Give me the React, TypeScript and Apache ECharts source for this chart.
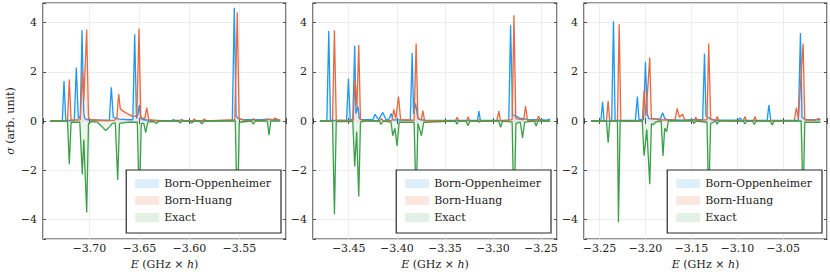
import React, { useEffect, useRef } from "react";
import * as echarts from "echarts";

type Pt = [number, number];

const SERIES_NAMES = ["Born-Oppenheimer", "Born-Huang", "Exact"];
const LINE_COLORS = ["#1e98f0", "#e8683f", "#3a9f47"];
const FILL_COLORS = ["rgba(30,152,240,0.13)", "rgba(232,104,63,0.13)", "rgba(58,159,71,0.13)"];
const LEGEND_SWATCH = ["#ddeffd", "#fbe7e0", "#e2f1e4"];

const X_RANGES: Pt[] = [
  [-3.7463, -3.5033],
  [-3.4872, -3.2333],
  [-3.2669, -3.0023],
];
const Y_RANGE: Pt = [-4.8, 4.8];

// Panel 1
const P1_BO: Pt[] = [
  [-3.739, 0], [-3.727, 0], [-3.7253, 1.63], [-3.7235, 0.02], [-3.715, 0.02], [-3.713, 2.18], [-3.711, 0.1],
  [-3.709, 0.2], [-3.7073, 3.69], [-3.7055, 0.3], [-3.7045, 0.1], [-3.702, 0.05], [-3.68, 0.02], [-3.678, 1.37],
  [-3.676, 0.15], [-3.67, 0.08], [-3.66, 0.05], [-3.6565, 0.05], [-3.6546, 3.53], [-3.6528, 0.1], [-3.6512, 0.3],
  [-3.65, 0.65], [-3.6485, 0.1], [-3.646, 0.05], [-3.64, 0.03], [-3.618, 0], [-3.616, 0.06], [-3.6135, 0.02],
  [-3.6095, 0.02], [-3.6076, 0.06], [-3.605, 0], [-3.557, 0.02], [-3.555, 4.61], [-3.5532, 0.2],
  [-3.551, 0.1], [-3.545, 0.05], [-3.53, 0.05], [-3.52, 0.08], [-3.515, 0.05], [-3.51, 0.05],
];
const P1_BH: Pt[] = [
  [-3.739, 0], [-3.7218, 0], [-3.72, 1.69], [-3.7182, 0.03], [-3.709, 0.05], [-3.707, 2.04], [-3.7055, 0.85],
  [-3.7026, 3.72], [-3.7008, 0.1], [-3.699, 0.05], [-3.69, 0.02], [-3.675, 0.03], [-3.6725, 0.1], [-3.6706, 1.1],
  [-3.669, 0.5], [-3.667, 0.42], [-3.662, 0.3], [-3.657, 0.2], [-3.6525, 0.2], [-3.6503, 3.76], [-3.6485, 0.15],
  [-3.6445, 0.1], [-3.6426, 0.54], [-3.6405, 0.05], [-3.636, 0.03], [-3.63, 0], [-3.6095, 0], [-3.6076, 0.06],
  [-3.6055, 0], [-3.597, 0], [-3.595, 0.08], [-3.593, 0], [-3.587, 0], [-3.585, 0.08], [-3.583, 0],
  [-3.5545, 0.05], [-3.552, 4.42], [-3.5502, 0.1], [-3.546, 0.03], [-3.538, 0], [-3.536, 0.1], [-3.534, 0.02],
  [-3.525, 0.02], [-3.5226, 0.08], [-3.52, 0.05], [-3.516, 0.06], [-3.5143, 0.12], [-3.511, 0.05], [-3.509, 0.04],
];
const P1_EX: Pt[] = [
  [-3.739, 0], [-3.7218, 0], [-3.72, -1.76], [-3.7182, -0.05], [-3.7095, -0.05], [-3.707, -2.16], [-3.7055, -0.75],
  [-3.7026, -3.72], [-3.7008, -0.1], [-3.698, -0.02], [-3.692, -0.05], [-3.688, -0.2], [-3.6836, -0.39],
  [-3.68, -0.25], [-3.677, -0.1], [-3.674, -0.08], [-3.6716, -2.4], [-3.6698, -0.1], [-3.66, -0.05],
  [-3.652, -0.05], [-3.65, -3.4], [-3.648, -0.1], [-3.6455, -0.1], [-3.6436, -0.47], [-3.6415, -0.05],
  [-3.636, -0.02], [-3.633, -0.1], [-3.63, 0], [-3.611, 0], [-3.609, -0.08], [-3.607, 0], [-3.6, 0],
  [-3.5976, -0.08], [-3.595, 0], [-3.59, 0], [-3.5876, -0.12], [-3.585, 0], [-3.554, 0], [-3.552, -4.0],
  [-3.55, -0.05], [-3.538, 0], [-3.536, -0.13], [-3.534, 0], [-3.522, 0], [-3.5203, -0.58], [-3.5185, 0],
  [-3.509, 0],
];

// Panel 2
const P2_BO: Pt[] = [
  [-3.48, 0], [-3.4728, 0], [-3.4708, 3.66], [-3.469, 0.02], [-3.4523, 0.02], [-3.4503, 1.73], [-3.4485, 0.05],
  [-3.4458, 0.05], [-3.4438, 3.06], [-3.4425, 0.3], [-3.4405, 0.6], [-3.439, 0.1], [-3.436, 0.05], [-3.425, 0.05],
  [-3.4226, 0.27], [-3.419, 0.05], [-3.4146, 0.35], [-3.4111, 0.05], [-3.408, 0.08], [-3.406, 0.31],
  [-3.404, 0.05], [-3.387, 0.03], [-3.386, 0.03], [-3.384, 2.77], [-3.3825, 0.3], [-3.3805, 0.72],
  [-3.378, 0.1], [-3.375, 0.05], [-3.37, 0.03], [-3.316, 0.02], [-3.3146, 0.4], [-3.313, 0.02],
  [-3.2835, 0.03], [-3.2816, 3.89], [-3.2795, 0.25], [-3.276, 0.2], [-3.272, 0.12], [-3.266, 0.08],
  [-3.26, 0.05], [-3.25, 0.05], [-3.245, 0.03], [-3.2406, 0.08],
];
const P2_BH: Pt[] = [
  [-3.48, 0], [-3.4669, 0], [-3.4649, 3.69], [-3.463, 0.02], [-3.4455, 0.02], [-3.4434, 1.69], [-3.4415, 0.6],
  [-3.4396, 3.09], [-3.4378, 0.05], [-3.433, 0.02], [-3.418, 0], [-3.4164, 0.1], [-3.414, 0], [-3.405, 0.02],
  [-3.4031, 0.47], [-3.401, 0.1], [-3.3982, 0.99], [-3.396, 0.05], [-3.382, 0.03], [-3.3799, 3.15],
  [-3.378, 0.1], [-3.3745, 0.05], [-3.3729, 0.42], [-3.371, 0.02], [-3.339, 0], [-3.3372, 0.15],
  [-3.3355, 0], [-3.3275, 0], [-3.3257, 0.17], [-3.324, 0], [-3.3155, 0], [-3.314, 0.05], [-3.312, 0],
  [-3.296, 0], [-3.2938, 0.4], [-3.292, 0], [-3.28, 0.05], [-3.2781, 4.3], [-3.2762, 0.1], [-3.268, 0.05],
  [-3.266, 0.61], [-3.264, 0.03], [-3.2545, 0], [-3.2524, 0.2], [-3.2505, 0], [-3.2406, 0],
];
const P2_EX: Pt[] = [
  [-3.48, 0], [-3.4669, 0], [-3.4649, -3.79], [-3.463, -0.02], [-3.4458, -0.02], [-3.4438, -1.85],
  [-3.4418, -0.43], [-3.4396, -3.07], [-3.4378, -0.05], [-3.433, 0], [-3.418, 0], [-3.4164, -0.14],
  [-3.414, 0], [-3.406, -0.05], [-3.4042, -0.6], [-3.402, -0.3], [-3.3997, -1.01], [-3.3975, -0.05],
  [-3.382, -0.05], [-3.3799, -3.3], [-3.378, -0.1], [-3.3765, -0.3], [-3.3743, -0.6], [-3.372, -0.05],
  [-3.339, 0], [-3.3375, -0.13], [-3.3355, 0], [-3.328, 0], [-3.326, -0.19], [-3.324, 0], [-3.3155, 0],
  [-3.314, -0.05], [-3.312, 0], [-3.294, 0], [-3.292, -0.26], [-3.29, 0], [-3.28, -0.05], [-3.2781, -3.9],
  [-3.276, -0.1], [-3.2715, -0.05], [-3.2691, -0.69], [-3.267, -0.05], [-3.257, 0], [-3.255, -0.2],
  [-3.253, 0], [-3.2406, 0],
];

// Panel 3
const P3_BO: Pt[] = [
  [-3.2593, 0], [-3.2485, 0], [-3.2467, 0.78], [-3.245, 0], [-3.2368, 0], [-3.2348, 4.06], [-3.233, 0.02],
  [-3.211, 0.02], [-3.2088, 0.99], [-3.207, 0.05], [-3.202, 0.05], [-3.2, 2.41], [-3.198, 0.3], [-3.1965, 0.1],
  [-3.19, 0.08], [-3.1835, 0.1], [-3.1813, 0.34], [-3.179, 0.1], [-3.175, 0.05], [-3.16, 0.03], [-3.15, 0.05],
  [-3.1377, 0.05], [-3.1357, 2.74], [-3.134, 0.2], [-3.132, 0.15], [-3.128, 0.05], [-3.12, 0.03],
  [-3.099, 0.03], [-3.0971, 0.13], [-3.095, 0.03], [-3.0675, 0.02], [-3.0656, 0.65], [-3.0635, 0.02],
  [-3.0335, 0.02], [-3.0312, 3.58], [-3.0295, 0.15], [-3.026, 0.05], [-3.015, 0.05], [-3.0095, 0.05],
];
const P3_BH: Pt[] = [
  [-3.2593, 0], [-3.2425, 0], [-3.2406, 0.82], [-3.2388, 0], [-3.2305, 0], [-3.2286, 3.94], [-3.2268, 0],
  [-3.2035, 0], [-3.2015, 1.23], [-3.1995, 0.2], [-3.1953, 2.58], [-3.1935, 0.1], [-3.19, 0.1], [-3.187, 0.05],
  [-3.168, 0.03], [-3.1654, 0.51], [-3.163, 0.15], [-3.1595, 0.28], [-3.157, 0.03], [-3.147, 0.02],
  [-3.1451, 0.15], [-3.143, 0.02], [-3.133, 0.05], [-3.1311, 3.15], [-3.129, 0.1], [-3.1235, 0.02],
  [-3.1217, 0.18], [-3.12, 0.02], [-3.0935, 0], [-3.0917, 0.18], [-3.09, 0], [-3.0825, 0], [-3.0808, 0.18],
  [-3.079, 0], [-3.038, 0.02], [-3.0356, 0.54], [-3.0335, 0.1], [-3.0283, 3.15], [-3.0265, 0.05],
  [-3.015, 0.03], [-3.012, 0.1], [-3.0095, 0.08],
];
const P3_EX: Pt[] = [
  [-3.2593, 0], [-3.2425, 0], [-3.2406, -0.88], [-3.2388, 0], [-3.2305, 0], [-3.2294, -4.12], [-3.2275, 0],
  [-3.2035, 0], [-3.2015, -1.41], [-3.1985, -0.35], [-3.1953, -2.57], [-3.1935, -0.1], [-3.1915, -0.15],
  [-3.189, -0.05], [-3.1829, 0], [-3.1809, -1.42], [-3.179, -0.3], [-3.1769, -0.43], [-3.175, 0],
  [-3.149, 0], [-3.1473, -0.1], [-3.145, 0], [-3.133, -0.05], [-3.1311, -3.2], [-3.129, -0.1],
  [-3.126, -0.05], [-3.1235, 0], [-3.122, -0.13], [-3.12, 0], [-3.0935, 0], [-3.0917, -0.12], [-3.09, 0],
  [-3.0835, 0], [-3.0815, -0.14], [-3.0795, 0], [-3.064, 0], [-3.0619, -0.16], [-3.06, 0], [-3.0305, 0],
  [-3.0283, -3.3], [-3.0265, -0.05], [-3.02, -0.05], [-3.0095, -0.05],
];

const PANEL_DATA: Pt[][][] = [
  [P1_BO, P1_BH, P1_EX],
  [P2_BO, P2_BH, P2_EX],
  [P3_BO, P3_BH, P3_EX],
];

const FONT = "'DejaVu Serif', 'Liberation Serif', serif";
const TEXT_COLOR = "#222";
const FRAME_COLOR = "#2a2a2a";

const GRID_LEFTS = [43, 313, 584];
const GRID_WIDTHS = [243, 244, 244];
const LEGEND_RIGHTS = [549, 279, 8];

function fmtX(v: number): string {
  if (Math.abs(v * 20 - Math.round(v * 20)) > 1e-6) return "";
  const s = Math.abs(v).toFixed(2);
  return v < 0 ? "\u2212" + s : s;
}
function fmtY(v: number): string {
  if (Math.abs(v / 2 - Math.round(v / 2)) > 1e-6) return "";
  const r = Math.round(v);
  return r < 0 ? "\u2212" + Math.abs(r) : String(r);
}

export default function App() {
  const ref = useRef<HTMLDivElement>(null);
  useEffect(() => {
    if (!ref.current) return;
    const chart = echarts.init(ref.current, undefined, { renderer: "svg" });

    const grids: any[] = [];
    const xAxes: any[] = [];
    const yAxes: any[] = [];
    const series: any[] = [];
    const legends: any[] = [];
    const richItalic = { fontStyle: "italic", fontFamily: FONT, fontSize: 11, color: TEXT_COLOR };

    PANEL_DATA.forEach((panel, i) => {
      grids.push({
        left: GRID_LEFTS[i],
        top: 3,
        width: GRID_WIDTHS[i],
        height: 236,
        show: true,
        borderColor: FRAME_COLOR,
        borderWidth: 1.2,
        backgroundColor: "transparent",
      });
      const tickCommon = { show: true, inside: true, length: 3, lineStyle: { color: FRAME_COLOR, width: 0.8 } };
      xAxes.push({
        type: "value",
        gridIndex: i,
        position: "bottom",
        min: X_RANGES[i][0],
        max: X_RANGES[i][1],
        minInterval: 0.05,
        maxInterval: 0.05,
        axisLine: { show: false },
        axisTick: tickCommon,
        splitLine: { show: true, lineStyle: { color: "#e8e8e8", width: 0.8 } },
        axisLabel: { formatter: fmtX, fontFamily: FONT, fontSize: 11, color: TEXT_COLOR, margin: 4 },
        name: "{i|E} (GHz \u00d7 {i|h})",
        nameLocation: "middle",
        nameGap: 18,
        nameTextStyle: { fontFamily: FONT, fontSize: 11, color: TEXT_COLOR, rich: { i: richItalic } },
      });
      xAxes.push({
        type: "value",
        gridIndex: i,
        position: "top",
        min: X_RANGES[i][0],
        max: X_RANGES[i][1],
        minInterval: 0.05,
        maxInterval: 0.05,
        axisLine: { show: false },
        axisTick: tickCommon,
        splitLine: { show: false },
        axisLabel: { show: false },
      });
      yAxes.push({
        type: "value",
        gridIndex: i,
        position: "left",
        min: Y_RANGE[0],
        max: Y_RANGE[1],
        minInterval: 2,
        maxInterval: 2,
        axisLine: { show: false },
        axisTick: tickCommon,
        splitLine: { show: true, lineStyle: { color: "#e8e8e8", width: 0.8 } },
        axisLabel: { formatter: fmtY, fontFamily: FONT, fontSize: 11, color: TEXT_COLOR, margin: 6 },
        ...(i === 0
          ? {
              name: "{i|\u03c3} (arb. unit)",
              nameLocation: "middle",
              nameGap: 27,
              nameTextStyle: { fontFamily: FONT, fontSize: 11, color: TEXT_COLOR, rich: { i: richItalic } },
            }
          : {}),
      });
      yAxes.push({
        type: "value",
        gridIndex: i,
        position: "right",
        min: Y_RANGE[0],
        max: Y_RANGE[1],
        minInterval: 2,
        maxInterval: 2,
        axisLine: { show: false },
        axisTick: tickCommon,
        splitLine: { show: false },
        axisLabel: { show: false },
      });
      panel.forEach((data, k) => {
        series.push({
          type: "line",
          name: SERIES_NAMES[k],
          xAxisIndex: 2 * i,
          yAxisIndex: 2 * i,
          data,
          showSymbol: false,
          symbol: "none",
          silent: true,
          lineStyle: { color: LINE_COLORS[k], width: 1.3 },
          itemStyle: { color: LINE_COLORS[k] },
          areaStyle: { color: FILL_COLORS[k], origin: 0 },
          z: 2 + k,
        });
      });
      legends.push({
        orient: "vertical",
        right: LEGEND_RIGHTS[i],
        top: 170,
        padding: [8, 10, 10, 9],
        itemWidth: 24,
        itemHeight: 9,
        itemGap: 6,
        itemTextGap: 9,
        icon: "rect",
        selectedMode: false,
        backgroundColor: "#ffffff",
        borderColor: FRAME_COLOR,
        borderWidth: 1.2,
        borderRadius: 0,
        textStyle: { fontFamily: FONT, fontSize: 11, color: TEXT_COLOR },
        data: SERIES_NAMES.map((n, k) => ({
          name: n,
          icon: "rect",
          itemStyle: { color: LEGEND_SWATCH[k], borderWidth: 0 },
        })),
        z: 10,
      });
    });

    chart.setOption({
      animation: false,
      backgroundColor: "#ffffff",
      grid: grids,
      xAxis: xAxes,
      yAxis: yAxes,
      legend: legends,
      series,
    });
    return () => chart.dispose();
  }, []);
  return (
    <div
      ref={ref}
      style={{ position: "fixed", left: 0, top: 0, width: 830, height: 277 }}
    />
  );
}
